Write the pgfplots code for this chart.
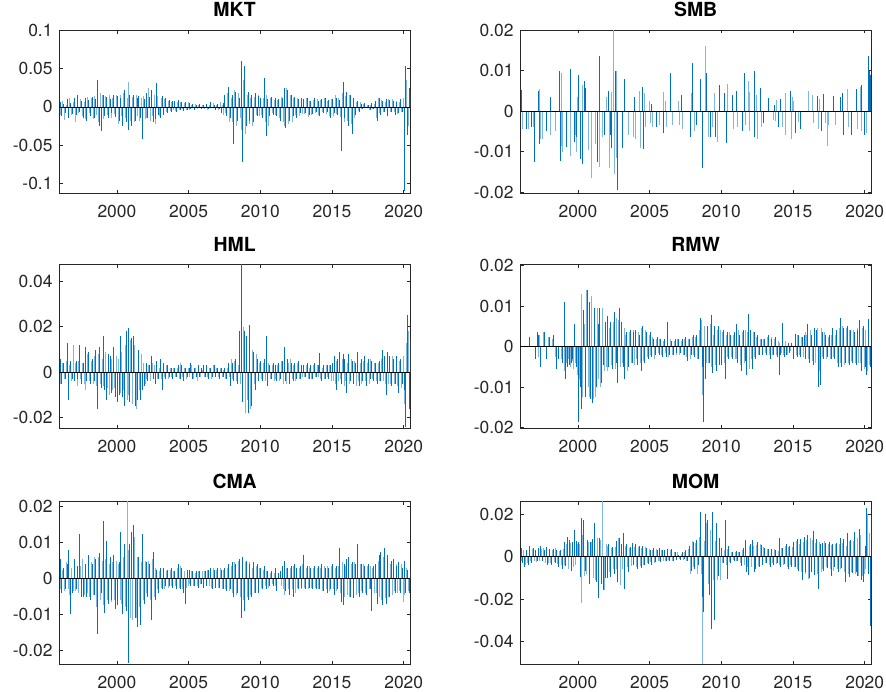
\documentclass[border=0pt]{standalone}
\usepackage{pgfplots}
\pgfplotsset{compat=1.18}
\usepackage{pgfplotstable}
\usepackage{fontspec}
\setmainfont{TeX Gyre Heros}
\definecolor{mblue}{RGB}{0,114,189}
\definecolor{lblue}{RGB}{125,184,224}
\definecolor{axgray}{RGB}{38,38,38}

% ---------- MKT ----------
\pgfplotstableread[row sep=\\]{y\\
0.006\\-0.012\\0.004\\-0.008\\0.010\\-0.015\\0.005\\-0.009\\
0.012\\-0.010\\0.015\\-0.006\\0.008\\-0.014\\0.011\\-0.018\\
0.009\\-0.012\\0.013\\-0.015\\0.010\\0.035\\-0.025\\-0.032\\
0.016\\-0.012\\0.013\\-0.015\\0.010\\-0.008\\0.015\\-0.013\\
0.014\\-0.018\\0.012\\-0.025\\0.022\\-0.020\\-0.030\\0.015\\
-0.025\\0.015\\-0.018\\0.012\\0.014\\-0.015\\-0.042\\0.010\\
0.018\\-0.015\\0.013\\0.022\\-0.020\\-0.016\\0.031\\-0.010\\
-0.015\\0.014\\-0.010\\0.012\\-0.008\\0.009\\-0.006\\0.008\\
0.008\\-0.006\\0.009\\-0.004\\0.006\\-0.005\\0.007\\-0.004\\
0.005\\-0.003\\0.004\\-0.004\\0.003\\-0.002\\0.004\\-0.003\\
0.003\\-0.002\\0.004\\-0.003\\0.006\\-0.002\\0.003\\-0.004\\
0.004\\-0.003\\-0.008\\0.005\\0.015\\-0.012\\0.026\\-0.015\\
0.015\\-0.048\\0.020\\-0.018\\0.012\\0.060\\-0.072\\0.053\\
-0.025\\0.020\\-0.018\\0.015\\-0.020\\0.018\\-0.012\\0.014\\
0.012\\-0.015\\0.038\\-0.038\\0.010\\-0.012\\0.013\\-0.010\\
0.011\\-0.012\\0.010\\-0.018\\0.012\\0.025\\-0.028\\0.022\\
-0.018\\0.015\\-0.012\\0.013\\-0.015\\0.010\\-0.008\\0.012\\
0.010\\-0.008\\0.012\\-0.010\\0.008\\-0.009\\0.011\\-0.007\\
0.008\\-0.012\\0.010\\-0.008\\0.011\\-0.007\\0.009\\-0.014\\
0.010\\-0.008\\0.012\\-0.010\\0.009\\-0.058\\0.033\\-0.015\\
0.020\\-0.025\\0.015\\-0.035\\0.012\\-0.010\\0.008\\-0.006\\
0.004\\-0.003\\0.005\\-0.002\\0.003\\-0.004\\0.005\\-0.003\\
0.008\\-0.018\\0.012\\-0.010\\0.008\\-0.007\\0.010\\-0.012\\
0.009\\-0.006\\0.008\\-0.010\\0.007\\-0.008\\0.010\\-0.006\\
-0.110\\0.053\\-0.036\\0.025\\
}\mktD
\pgfplotstableread[row sep=\\]{y\\
-0.010\\0.008\\-0.017\\0.003\\-0.006\\0.012\\-0.011\\0.007\\
-0.020\\0.014\\-0.008\\0.010\\-0.012\\0.006\\-0.016\\0.013\\
-0.008\\0.011\\-0.016\\0.014\\-0.010\\-0.020\\0.018\\0.015\\
-0.016\\0.014\\-0.010\\0.015\\-0.014\\0.012\\-0.009\\0.016\\
-0.022\\0.016\\-0.012\\0.018\\-0.015\\0.012\\0.033\\-0.018\\
0.013\\-0.020\\0.016\\-0.012\\-0.018\\0.011\\0.014\\-0.016\\
-0.014\\0.025\\-0.018\\-0.012\\0.015\\-0.022\\0.014\\-0.012\\
0.012\\-0.009\\0.010\\-0.007\\0.008\\-0.005\\0.007\\-0.004\\
-0.005\\0.007\\-0.004\\0.006\\-0.003\\0.005\\-0.004\\0.006\\
-0.004\\0.003\\-0.002\\0.004\\-0.003\\0.002\\-0.002\\0.003\\
-0.003\\0.002\\-0.004\\0.003\\-0.002\\0.005\\-0.003\\0.002\\
-0.004\\0.006\\0.003\\-0.010\\-0.008\\0.018\\-0.020\\0.012\\
-0.020\\0.022\\-0.025\\0.018\\-0.015\\-0.030\\0.035\\-0.035\\
0.016\\-0.022\\0.012\\-0.025\\0.013\\-0.010\\0.015\\-0.012\\
-0.010\\0.011\\-0.020\\0.015\\-0.025\\0.012\\-0.008\\0.009\\
-0.010\\0.009\\-0.015\\0.013\\-0.020\\-0.025\\0.024\\-0.022\\
0.016\\-0.020\\0.012\\-0.010\\0.011\\-0.012\\0.010\\-0.009\\
-0.009\\0.011\\-0.013\\0.008\\-0.010\\0.009\\-0.008\\0.010\\
-0.010\\0.009\\-0.006\\0.012\\-0.009\\0.008\\-0.012\\0.010\\
-0.012\\0.015\\-0.009\\0.011\\-0.013\\0.018\\-0.020\\0.014\\
-0.018\\0.016\\-0.022\\0.012\\-0.015\\0.007\\-0.005\\0.006\\
-0.003\\0.004\\-0.002\\0.003\\-0.004\\0.002\\-0.003\\0.004\\
-0.015\\0.011\\-0.008\\0.009\\-0.006\\0.007\\-0.012\\0.010\\
-0.007\\0.010\\-0.006\\0.008\\-0.009\\0.006\\-0.007\\0.011\\
-0.060\\0.035\\-0.025\\0.022\\
}\mktL

% ---------- HML ----------
\pgfplotstableread[row sep=\\]{y\\
0.006\\-0.005\\0.004\\-0.003\\0.013\\-0.012\\0.005\\-0.003\\
-0.004\\0.005\\-0.003\\0.012\\-0.005\\0.004\\0.011\\-0.004\\
0.009\\-0.005\\0.006\\-0.004\\0.010\\-0.016\\0.011\\-0.007\\
0.016\\-0.008\\-0.012\\0.008\\0.007\\-0.009\\0.011\\-0.011\\
-0.013\\-0.010\\0.016\\-0.011\\-0.015\\0.018\\0.0195\\-0.013\\
0.015\\0.016\\-0.015\\-0.012\\0.010\\-0.012\\-0.008\\-0.006\\
0.004\\-0.004\\0.003\\0.007\\-0.003\\-0.005\\0.005\\-0.003\\
0.006\\-0.008\\0.004\\-0.003\\0.003\\-0.002\\0.002\\-0.003\\
0.002\\-0.002\\0.003\\-0.003\\0.003\\-0.004\\0.002\\-0.002\\
0.002\\0.004\\-0.003\\0.002\\-0.002\\0.003\\-0.002\\0.002\\
0.003\\-0.002\\0.003\\-0.003\\0.002\\-0.002\\0.003\\-0.002\\
0.002\\-0.003\\0.002\\-0.002\\0.002\\-0.003\\0.004\\-0.006\\
0.004\\-0.004\\0.006\\-0.005\\0.018\\0.0475\\-0.013\\0.018\\
0.016\\-0.018\\0.021\\-0.015\\0.009\\-0.008\\0.006\\-0.004\\
0.005\\-0.004\\0.006\\0.016\\-0.006\\0.003\\-0.003\\0.004\\
0.003\\-0.004\\0.004\\-0.003\\0.005\\0.011\\-0.004\\0.006\\
-0.005\\0.004\\-0.004\\0.004\\-0.003\\0.005\\-0.003\\0.003\\
0.003\\-0.002\\0.004\\-0.003\\0.003\\-0.003\\0.004\\-0.002\\
0.003\\0.0085\\-0.004\\0.003\\-0.003\\0.003\\-0.003\\0.003\\
0.004\\0.007\\-0.008\\0.006\\0.009\\-0.005\\0.008\\0.006\\
-0.009\\0.008\\-0.004\\0.005\\-0.005\\0.004\\0.009\\-0.006\\
0.006\\-0.004\\0.007\\-0.006\\0.006\\-0.003\\0.005\\-0.004\\
0.004\\-0.005\\0.005\\-0.004\\0.010\\0.007\\-0.010\\0.009\\
0.007\\-0.006\\0.006\\-0.005\\0.007\\-0.009\\0.006\\-0.005\\
-0.008\\-0.024\\0.025\\-0.016\\
}\hmlD
\pgfplotstableread[row sep=\\]{y\\
-0.005\\0.004\\-0.003\\0.005\\-0.004\\0.003\\-0.004\\0.012\\
0.004\\-0.006\\0.005\\-0.003\\0.004\\-0.005\\-0.008\\0.008\\
-0.004\\0.005\\-0.005\\0.007\\-0.006\\0.008\\-0.005\\0.006\\
-0.006\\0.009\\-0.007\\-0.010\\0.006\\-0.008\\-0.007\\0.007\\
0.006\\-0.009\\0.009\\-0.008\\0.012\\-0.012\\-0.010\\0.014\\
-0.014\\0.012\\-0.016\\-0.010\\-0.008\\0.008\\0.004\\-0.005\\
-0.003\\0.003\\-0.004\\0.004\\0.003\\-0.002\\-0.003\\0.002\\
-0.003\\0.004\\-0.002\\0.003\\-0.003\\0.002\\-0.002\\0.002\\
-0.002\\0.002\\-0.003\\0.004\\-0.002\\0.002\\-0.003\\0.002\\
-0.002\\0.003\\-0.003\\0.002\\-0.004\\0.002\\-0.002\\0.001\\
-0.002\\0.003\\-0.002\\0.002\\-0.003\\0.003\\-0.002\\0.002\\
-0.002\\0.002\\-0.002\\0.001\\-0.003\\0.002\\-0.002\\0.006\\
-0.003\\0.005\\-0.004\\0.003\\-0.005\\0.029\\0.020\\-0.018\\
-0.012\\0.014\\-0.016\\0.010\\-0.005\\0.008\\-0.004\\0.004\\
-0.003\\0.004\\-0.004\\0.003\\0.004\\-0.003\\0.003\\-0.004\\
-0.003\\0.003\\-0.004\\0.005\\-0.005\\0.003\\-0.005\\0.004\\
0.006\\-0.003\\0.003\\-0.004\\0.004\\-0.003\\0.003\\-0.002\\
-0.002\\0.003\\-0.003\\0.002\\-0.003\\0.003\\-0.002\\0.003\\
-0.002\\-0.003\\0.002\\-0.003\\0.003\\-0.002\\0.003\\-0.004\\
-0.004\\-0.005\\0.005\\-0.004\\-0.003\\0.006\\-0.006\\-0.004\\
0.004\\-0.005\\0.006\\-0.004\\0.005\\-0.006\\-0.004\\0.004\\
-0.005\\0.005\\-0.004\\0.004\\-0.005\\0.006\\-0.003\\0.004\\
-0.004\\0.004\\-0.004\\0.006\\-0.004\\-0.005\\0.006\\-0.005\\
-0.005\\0.007\\-0.005\\0.006\\-0.006\\0.005\\-0.007\\0.007\\
-0.014\\0.013\\0.018\\0.015\\
}\hmlL

% ---------- RMW ----------
\pgfplotstableread[row sep=\\]{y\\
0\\0\\0\\0\\0\\0.0025\\0\\0\\
-0.003\\0.0035\\0.0028\\-0.005\\0\\0.0035\\-0.003\\0\\
0.0025\\0\\0.0028\\0\\-0.0055\\-0.003\\0\\-0.004\\
0.011\\-0.008\\-0.005\\-0.0045\\-0.004\\-0.003\\0.0055\\-0.005\\
-0.0185\\-0.010\\-0.0155\\0.009\\-0.0125\\0.014\\0.011\\-0.013\\
-0.014\\0.0095\\-0.010\\0.0055\\0.0095\\-0.009\\-0.0045\\0.006\\
0.0075\\-0.005\\0.006\\-0.0055\\0.0085\\-0.004\\-0.009\\0.0095\\
0.006\\-0.005\\-0.008\\0.0035\\-0.005\\0.004\\-0.004\\0.0035\\
0.004\\-0.0045\\0.003\\-0.006\\0.005\\-0.004\\0.0035\\-0.003\\
0.0035\\-0.0025\\0.002\\-0.002\\0.0025\\-0.002\\0.002\\-0.0025\\
0.002\\-0.0025\\0.006\\-0.002\\0.0015\\-0.002\\0.002\\-0.0015\\
0.002\\-0.0015\\0.002\\-0.002\\0.0025\\-0.0035\\0.002\\-0.002\\
0.003\\-0.0025\\0.003\\-0.003\\0.007\\-0.005\\-0.0185\\-0.008\\
0.005\\-0.004\\0.0078\\-0.0065\\0.005\\-0.006\\0.005\\-0.0045\\
-0.0045\\0.004\\-0.008\\0.0035\\-0.003\\0.003\\-0.003\\0.0035\\
0.0055\\-0.004\\0.003\\-0.006\\0.004\\-0.0035\\-0.007\\0.008\\
0.004\\-0.0055\\0.0035\\-0.003\\0.003\\-0.002\\0.002\\-0.002\\
0.002\\-0.002\\0.003\\-0.003\\0.002\\-0.002\\0.0025\\-0.0025\\
-0.007\\-0.002\\0.0058\\-0.0025\\-0.002\\0.001\\-0.0015\\0.001\\
-0.003\\0.0032\\-0.0025\\0.003\\-0.0025\\0.0025\\0.003\\-0.003\\
0.0055\\-0.004\\0.003\\-0.0045\\0.0045\\0.004\\-0.010\\-0.0095\\
0.0035\\-0.003\\0.003\\-0.0025\\0.003\\-0.003\\0.0045\\-0.003\\
0.004\\-0.005\\0.007\\-0.005\\0.0045\\-0.004\\0.005\\-0.0045\\
0.004\\-0.004\\0.0035\\-0.0045\\0.004\\0.0065\\-0.006\\0.005\\
-0.005\\-0.007\\0.0068\\-0.005\\
}\rmwD
\pgfplotstableread[row sep=\\]{y\\
0\\0\\0\\0\\0\\0\\0\\0\\
0\\-0.0025\\0.003\\0\\0.0035\\0\\0\\0.0025\\
0\\0.002\\0\\-0.0025\\0\\0\\-0.003\\0\\
-0.006\\-0.004\\-0.003\\-0.005\\-0.0035\\-0.0055\\-0.004\\-0.007\\
-0.008\\0.013\\-0.0125\\0.0055\\0.014\\-0.010\\-0.0125\\0.0125\\
-0.013\\-0.0125\\0.0095\\-0.008\\-0.010\\0.0095\\-0.006\\-0.005\\
-0.006\\0.0045\\-0.0045\\0.006\\-0.0055\\0.007\\0.0065\\-0.005\\
-0.004\\0.0045\\0.003\\-0.006\\0.0035\\-0.004\\0.004\\-0.0045\\
-0.003\\0.0035\\-0.004\\0.0045\\-0.0035\\0.004\\-0.0025\\0.003\\
-0.002\\0.0025\\-0.003\\0.002\\-0.0015\\0.002\\-0.002\\0.0015\\
-0.0015\\0.002\\-0.0025\\0.002\\-0.002\\0.0015\\-0.002\\0.002\\
-0.002\\0.0015\\-0.002\\0.002\\-0.0025\\0.002\\-0.003\\0.0025\\
-0.002\\0.0025\\-0.003\\0.004\\0.0065\\-0.012\\0.005\\-0.004\\
-0.004\\0.0055\\-0.005\\0.003\\-0.0045\\0.004\\-0.003\\0.004\\
0.0035\\-0.004\\0.003\\-0.0025\\0.0035\\-0.0025\\0.003\\-0.003\\
-0.003\\0.004\\-0.0045\\0.0035\\-0.004\\0.004\\0.0035\\-0.0055\\
-0.003\\0.0035\\-0.0025\\0.0025\\-0.002\\0.002\\-0.0015\\0.002\\
-0.0015\\0.0025\\-0.002\\0.0025\\-0.002\\0.002\\-0.002\\0.0015\\
0.001\\-0.0015\\-0.002\\0.0015\\-0.002\\0\\-0.001\\0\\
0\\-0.002\\0.003\\-0.002\\0.0025\\-0.0025\\0.0035\\0.003\\
-0.003\\0.004\\-0.0035\\0.003\\-0.004\\0.0045\\-0.006\\0.0045\\
-0.0025\\0.0035\\-0.003\\0.0025\\-0.003\\0.003\\-0.0025\\0.003\\
-0.004\\0.0045\\-0.004\\0.005\\-0.0045\\0.0045\\-0.004\\0.004\\
-0.0035\\0.004\\-0.004\\0.0045\\-0.004\\-0.004\\0.0045\\-0.0055\\
0.004\\-0.006\\-0.0045\\0.004\\
}\rmwL

% ---------- CMA ----------
\pgfplotstableread[row sep=\\]{y\\
0.0055\\-0.004\\0.003\\-0.003\\0.004\\0.008\\-0.010\\-0.004\\
0.0055\\-0.003\\0.0035\\0.0125\\-0.005\\-0.005\\0.004\\-0.005\\
0.0065\\-0.006\\0.004\\-0.0045\\0.0055\\-0.0155\\0.007\\-0.004\\
0.016\\-0.0095\\0.0105\\-0.007\\0.006\\-0.006\\0.0065\\-0.0085\\
-0.0075\\0.0045\\0.013\\-0.010\\0.0095\\-0.009\\-0.0235\\0.0095\\
0.013\\0.015\\-0.011\\-0.0135\\0.006\\-0.013\\0.0125\\-0.007\\
0.0045\\-0.005\\0.004\\-0.0115\\0.0075\\-0.006\\0.0025\\-0.004\\
0.003\\-0.003\\0.003\\-0.002\\0.0025\\-0.002\\0.003\\-0.0025\\
0.002\\-0.003\\0.004\\-0.003\\0.003\\-0.004\\-0.007\\0.0025\\
0.0025\\-0.002\\0.002\\-0.002\\0.002\\-0.0025\\0.002\\-0.0015\\
-0.0025\\0.002\\-0.002\\0.0025\\0.003\\-0.003\\0.0025\\-0.0025\\
0.003\\-0.0025\\0.0025\\-0.003\\0.003\\-0.0035\\0.004\\-0.003\\
0.0045\\-0.005\\0.004\\-0.004\\0.0055\\-0.011\\0.006\\-0.009\\
0.005\\-0.006\\0.004\\-0.005\\0.0045\\-0.004\\0.004\\-0.004\\
0.003\\-0.003\\0.0035\\-0.003\\0.002\\-0.002\\0.002\\-0.002\\
0.003\\-0.0035\\0.0015\\0.002\\0.0035\\0.005\\-0.0035\\0.003\\
-0.0045\\0.0035\\-0.005\\0.004\\0.003\\-0.003\\0.0035\\-0.0025\\
0.0065\\-0.003\\0.0035\\-0.0025\\0.003\\-0.003\\0.0035\\-0.003\\
0.0035\\-0.003\\0.004\\-0.0035\\0.003\\-0.004\\0.003\\-0.003\\
0.004\\-0.0045\\0.0035\\-0.003\\0.0085\\-0.0065\\-0.0075\\0.004\\
0.0055\\0.006\\-0.005\\0.0045\\-0.0055\\0.004\\0.0095\\-0.005\\
0.004\\-0.004\\0.0035\\-0.0045\\0.004\\-0.003\\-0.009\\0.0035\\
0.004\\-0.007\\0.0065\\0.0075\\-0.0075\\0.0085\\-0.007\\0.0065\\
-0.005\\0.005\\0.0055\\-0.004\\0.0035\\0.0045\\-0.004\\0.003\\
0.005\\-0.004\\0.0025\\-0.004\\
}\cmaD
\pgfplotstableread[row sep=\\]{y\\
-0.003\\0.0025\\-0.0035\\0.0045\\-0.003\\-0.0045\\0.003\\-0.0035\\
-0.0035\\0.003\\-0.004\\0.0035\\0.0055\\-0.0045\\0.003\\-0.004\\
-0.005\\0.0045\\-0.0045\\0.006\\-0.008\\0.006\\-0.006\\0.005\\
-0.0075\\0.0055\\-0.006\\0.004\\-0.0065\\0.0045\\-0.006\\0.005\\
0.004\\-0.006\\-0.007\\0.006\\-0.008\\0.0215\\0.008\\-0.011\\
-0.0115\\0.0115\\-0.011\\0.006\\-0.008\\0.0045\\-0.006\\0.005\\
-0.004\\0.005\\-0.006\\0.0055\\-0.005\\0.003\\-0.003\\0.002\\
-0.0025\\0.0025\\-0.003\\0.002\\-0.0025\\0.0025\\-0.002\\0.002\\
-0.002\\0.003\\-0.0025\\0.0035\\-0.003\\0.002\\-0.0025\\-0.002\\
-0.0015\\0.002\\-0.002\\0.0015\\-0.002\\0.002\\-0.0015\\0.002\\
0.002\\-0.002\\0.0025\\-0.002\\-0.0025\\0.003\\-0.002\\0.0025\\
-0.0025\\0.003\\-0.003\\0.0025\\-0.003\\0.003\\-0.0035\\0.0035\\
-0.004\\0.0045\\-0.0045\\0.005\\-0.005\\-0.007\\-0.006\\0.0045\\
-0.005\\0.0045\\-0.0045\\0.003\\-0.004\\0.0035\\-0.0035\\0.003\\
-0.0025\\0.0025\\-0.002\\0.002\\-0.0025\\0.0015\\-0.0015\\0.0015\\
-0.002\\0\\0\\-0.002\\-0.003\\-0.0045\\0.003\\-0.003\\
0.003\\-0.003\\0.0035\\-0.004\\-0.0025\\0.003\\-0.003\\0.004\\
-0.0025\\0.003\\-0.003\\0.0035\\-0.0025\\0.003\\-0.0025\\0.003\\
-0.003\\0.003\\-0.0035\\0.0035\\-0.003\\0.0035\\-0.0035\\0.0035\\
-0.003\\0.003\\-0.0035\\0.0035\\-0.004\\0.0045\\-0.005\\0.0035\\
-0.0045\\-0.005\\0.004\\-0.005\\0.0045\\-0.0045\\-0.004\\0.004\\
-0.0035\\0.004\\-0.004\\0.0035\\-0.003\\0.0035\\0.003\\-0.004\\
-0.004\\0.005\\-0.005\\-0.006\\0.006\\-0.0055\\0.005\\-0.005\\
0.004\\-0.0045\\-0.0035\\0.004\\-0.004\\-0.0035\\0.004\\-0.0065\\
-0.0045\\0.003\\-0.0035\\0.002\\
}\cmaL

% ---------- MOM ----------
\pgfplotstableread[row sep=\\]{y\\
0.004\\-0.003\\-0.005\\0.003\\-0.004\\0.005\\-0.003\\0.004\\
0.003\\-0.002\\0.004\\0.005\\-0.002\\0.003\\0.0045\\-0.004\\
0.0035\\-0.004\\0.0035\\-0.003\\0.003\\-0.005\\0.003\\-0.006\\
0.007\\-0.0045\\0.0095\\0.008\\-0.0065\\0.007\\0.0125\\0.0075\\
0.007\\-0.0095\\0.018\\0.0175\\-0.0065\\0.008\\-0.013\\0.007\\
0.0085\\0.016\\-0.012\\-0.0195\\0.009\\-0.013\\-0.0155\\-0.010\\
-0.010\\0.006\\-0.0095\\0.0045\\-0.008\\0.0075\\-0.012\\0.009\\
0.006\\0.011\\-0.015\\0.006\\-0.007\\0.0045\\0.0065\\-0.004\\
0.006\\-0.006\\0.005\\-0.0055\\0.005\\-0.004\\0.004\\-0.0035\\
0.003\\-0.004\\0.004\\-0.0025\\0.003\\0.004\\-0.0025\\0.003\\
0.003\\-0.002\\0.0035\\-0.002\\0.0035\\-0.002\\0.002\\-0.0015\\
0.001\\-0.0015\\0.002\\-0.001\\0.003\\-0.002\\0.005\\-0.0065\\
0.007\\-0.006\\0.008\\-0.004\\0.021\\-0.019\\-0.026\\0.020\\
0.0175\\-0.018\\-0.034\\0.021\\-0.030\\0.016\\-0.009\\0.009\\
0.004\\-0.003\\0.0175\\-0.0105\\0.005\\-0.003\\0.002\\-0.002\\
0.0025\\-0.002\\0.002\\-0.0045\\0.004\\0.008\\-0.007\\-0.0085\\
0.006\\0.008\\-0.007\\-0.006\\0.007\\-0.005\\0.0055\\-0.004\\
0.004\\-0.003\\0.0035\\-0.005\\0.0035\\-0.004\\0.003\\-0.003\\
0.009\\-0.005\\0.004\\-0.0035\\0.006\\-0.006\\0.005\\-0.005\\
0.007\\-0.005\\0.0085\\-0.0065\\0.0085\\-0.011\\0.0095\\-0.007\\
0.010\\-0.010\\-0.007\\0.012\\-0.0085\\0.0085\\-0.015\\0.006\\
0.0065\\-0.0065\\0.0065\\-0.0055\\0.007\\-0.009\\0.006\\-0.005\\
0.0065\\-0.007\\0.009\\-0.0055\\0.0085\\-0.012\\0.011\\-0.0095\\
0.008\\-0.0075\\0.0115\\-0.007\\-0.009\\0.013\\-0.011\\-0.012\\
0.005\\0.023\\-0.008\\-0.0325\\
}\momD
\pgfplotstableread[row sep=\\]{y\\
-0.002\\0.003\\-0.004\\-0.003\\0.003\\-0.002\\0.0035\\-0.002\\
-0.0025\\0.0035\\-0.002\\0.0035\\0.004\\-0.003\\0.003\\-0.003\\
-0.003\\0.003\\-0.0025\\0.004\\-0.0035\\0.0025\\-0.004\\0.0035\\
-0.004\\0.006\\-0.006\\0.0065\\0.005\\-0.005\\-0.004\\0.006\\
0.006\\-0.022\\0.010\\-0.009\\-0.008\\0.007\\-0.011\\0.007\\
-0.010\\-0.011\\0.009\\-0.0135\\0.008\\0.026\\-0.0155\\0.006\\
0.005\\-0.007\\0.004\\-0.006\\0.0045\\-0.006\\0.009\\-0.0135\\
-0.006\\-0.008\\0.005\\-0.005\\0.004\\-0.0045\\-0.004\\0.0045\\
-0.005\\0.0045\\-0.0045\\0.004\\-0.004\\0.0045\\-0.003\\0.0035\\
-0.0025\\0.003\\-0.003\\0.0035\\-0.002\\-0.002\\0.003\\-0.002\\
-0.002\\0.0025\\-0.0015\\0.003\\-0.002\\0.002\\-0.0015\\0.002\\
-0.001\\0.0015\\-0.0015\\0.002\\-0.002\\0.0035\\-0.008\\0.0075\\
-0.005\\0.0065\\-0.008\\0.0095\\-0.008\\-0.0505\\0.0075\\0.016\\
-0.013\\0.0125\\-0.015\\-0.011\\0.0075\\-0.011\\0.008\\-0.011\\
-0.003\\0.003\\-0.004\\0.0035\\-0.0025\\0.002\\-0.0015\\0.002\\
-0.002\\0.002\\-0.003\\0.003\\-0.004\\0.004\\-0.005\\0.005\\
-0.005\\0.005\\-0.006\\0.0055\\-0.0045\\0.006\\-0.004\\0.0045\\
-0.003\\0.0035\\-0.004\\0.003\\-0.003\\0.0035\\-0.0035\\0.0025\\
-0.004\\0.004\\-0.004\\0.005\\-0.005\\0.0045\\-0.004\\0.0045\\
-0.005\\0.0075\\-0.006\\0.006\\-0.007\\0.007\\-0.008\\0.008\\
-0.0105\\0.009\\0.008\\-0.0075\\0.0065\\-0.008\\0.007\\-0.007\\
-0.006\\0.0075\\-0.005\\0.006\\-0.006\\0.0055\\-0.0065\\0.006\\
-0.006\\0.006\\-0.006\\0.0065\\-0.007\\0.005\\-0.008\\0.0075\\
-0.007\\0.0075\\-0.008\\0.009\\-0.009\\0.010\\-0.009\\-0.008\\
-0.006\\0.020\\0.011\\0.019\\
}\momL

\pgfplotsset{
  fac/.style={
    scale only axis, width=350.7bp, anchor=south west,
    xmin=1995.98, xmax=2020.44,
    xtick={2000,2005,2010,2015,2020},
    xticklabels={2000,2005,2010,2015,2020},
    scaled y ticks=false, scaled x ticks=false,
    minor tick num=0,
    tick align=inside, major tick length=3.5bp,
    axis line style={draw=axgray, line width=0.7bp},
    every tick/.style={draw=axgray, line width=0.7bp},
    tick label style={font=\fontsize{17.5}{18}\selectfont, text=axgray},
    xticklabel style={inner sep=0pt, anchor=north, yshift=-12bp},
    yticklabel style={inner sep=0pt, anchor=east, xshift=-6.6bp},
    title style={font=\bfseries\fontsize{19.5}{20}\selectfont, at={(0.5,1)}, anchor=base, yshift=7.5bp, inner sep=0pt},
  },
  dk/.style={ycomb, mark=none, draw=mblue, line width=1bp},
  lt/.style={ycomb, mark=none, draw=lblue, line width=1bp},
  zl/.style={black, line width=0.6bp, mark=none},
}

\begin{document}
\begin{tikzpicture}
\useasboundingbox (0,0) rectangle (886bp,-692bp);

% MKT
\begin{axis}[fac, at={(59.3bp,-193bp)}, height=163bp, ymin=-0.112, ymax=0.1,
  ytick={-0.1,-0.05,0,0.05,0.1}, yticklabels={-0.1,-0.05,0,0.05,0.1}, title={MKT}]
\addplot[lt] table[x expr=1996.09+0.125*\coordindex, y=y]{\mktL};
\addplot[dk] table[x expr=1996.03+0.125*\coordindex, y=y]{\mktD};
\addplot[zl] coordinates {(1995.98,0) (2020.44,0)};
\end{axis}

% SMB
\begin{axis}[fac, at={(520.3bp,-193bp)}, height=163bp, ymin=-0.0202, ymax=0.02,
  ytick={-0.02,-0.01,0,0.01,0.02}, yticklabels={-0.02,-0.01,0,0.01,0.02}, title={SMB}]
\addplot[lt] coordinates {(1996.1,-0.0045) (1996.55,-0.0045) (1996.88,-0.004) (1997.35,0.0055) (1997.4,-0.007) (1997.55,-0.007) (1998.12,-0.006) (1998.4,-0.005) (1998.82,-0.0085) (1998.88,0.0095) (1998.9,-0.010) (1999.45,0.003) (1999.5,-0.011) (1999.82,-0.006) (1999.88,-0.010) (1999.95,0.0035) (2000.35,0.0065) (2000.74,-0.0095) (2000.98,-0.0165) (2001.25,-0.008) (2001.52,-0.0138) (2001.7,-0.0065) (2002.0,0.0035) (2002.2,-0.014) (2002.33,0.0048) (2002.47,0.020) (2002.52,-0.0155) (2002.66,-0.0115) (2002.72,0.0098) (2003.5,-0.006) (2003.85,-0.0065) (2004.02,-0.007) (2004.26,0.005) (2004.35,-0.009) (2004.67,0.0045) (2004.7,-0.004) (2005.0,0.0025) (2005.05,-0.003) (2005.2,-0.004) (2005.7,-0.0035) (2005.98,0.0048) (2006.1,0.0025) (2006.15,-0.004) (2006.6,-0.0035) (2006.98,0.0025) (2007.05,-0.0035) (2007.3,-0.0045) (2007.9,0.0045) (2008.1,-0.005) (2008.93,0.016) (2009.1,-0.0065) (2009.5,0.0045) (2009.4,-0.004) (2009.75,-0.0075) (2010.42,0.0068) (2010.82,-0.0045) (2011.15,-0.004) (2011.7,-0.0035) (2011.93,0.0075) (2011.98,-0.005) (2012.0,0.0048) (2012.53,-0.0068) (2012.45,0.004) (2012.8,-0.004) (2013.65,-0.0022) (2013.85,0.0028) (2013.8,-0.0025) (2014.3,-0.004) (2014.46,0.0045) (2014.5,-0.006) (2014.9,-0.007) (2014.98,0.0035) (2015.05,0.0025) (2015.35,-0.0028) (2016.1,0.005) (2016.33,0.004) (2016.4,-0.003) (2016.8,-0.0045) (2016.86,0.003) (2017.25,-0.003) (2017.4,-0.0085) (2017.5,-0.0035) (2017.97,-0.0035) (2018.81,0.0055) (2018.9,-0.004) (2019.5,-0.0045) (2019.7,0.006) (2019.8,-0.0048) (2020.1,-0.0055)};
\addplot[dk] coordinates {(1996.03,0.0053) (1996.4,-0.0045) (1996.75,-0.004) (1996.98,-0.0125) (1997.25,0.005) (1997.33,-0.008) (1997.8,-0.005) (1998.1,0.0035) (1998.72,0.010) (1998.76,-0.0122) (1999.19,-0.0088) (1999.49,0.0105) (1999.75,-0.0075) (1999.92,-0.0065) (2000.07,0.009) (2000.18,-0.0118) (2000.3,-0.013) (2000.44,0.0075) (2000.5,0.0057) (2001.33,-0.0125) (2001.51,0.0137) (2001.86,-0.006) (2002.15,0.005) (2002.25,-0.0058) (2002.35,-0.009) (2002.62,0.0098) (2002.79,-0.0195) (2003.14,-0.009) (2003.23,0.008) (2003.95,0.0035) (2004.49,0.006) (2004.55,-0.0093) (2005.12,0.0018) (2005.5,-0.004) (2005.95,-0.0055) (2006.47,0.0095) (2007.19,0.004) (2007.84,-0.0065) (2008.02,0.0118) (2008.28,-0.0035) (2008.56,0.0078) (2008.72,-0.014) (2009.0,0.0093) (2009.25,-0.0065) (2009.6,-0.0065) (2009.84,0.0065) (2010.19,0.0045) (2010.35,-0.0078) (2010.77,0.004) (2011.05,0.005) (2011.45,-0.005) (2011.6,0.0095) (2012.28,0.010) (2012.33,-0.0065) (2012.74,0.0058) (2012.95,-0.003) (2013.3,0.0032) (2013.74,0.0016) (2014.0,-0.004) (2014.16,0.003) (2014.84,0.005) (2015.16,-0.0055) (2015.5,-0.0045) (2016.74,0.0038) (2017.02,-0.005) (2017.16,0.0043) (2017.79,0.0037) (2018.33,0.0035) (2018.45,0.0045) (2018.5,-0.006) (2019.07,-0.006) (2019.42,0.0055) (2019.75,0.0065) (2020.0,-0.006) (2020.23,0.0135) (2020.3,0.010) (2020.38,0.009)};
\addplot[zl] coordinates {(1995.98,0) (2020.44,0)};
\end{axis}

% HML
\begin{axis}[fac, at={(59.3bp,-428bp)}, height=163.5bp, ymin=-0.0245, ymax=0.0474,
  ytick={-0.02,0,0.02,0.04}, yticklabels={-0.02,0,0.02,0.04}, title={HML}]
\addplot[lt] table[x expr=1996.09+0.125*\coordindex, y=y]{\hmlL};
\addplot[dk] table[x expr=1996.03+0.125*\coordindex, y=y]{\hmlD};
\addplot[zl] coordinates {(1995.98,0) (2020.44,0)};
\end{axis}

% RMW
\begin{axis}[fac, at={(520.3bp,-428bp)}, height=163.5bp, ymin=-0.0201, ymax=0.0203,
  ytick={-0.02,-0.01,0,0.01,0.02}, yticklabels={-0.02,-0.01,0,0.01,0.02}, title={RMW}]
\addplot[lt] table[x expr=1996.09+0.125*\coordindex, y=y]{\rmwL};
\addplot[dk] table[x expr=1996.03+0.125*\coordindex, y=y]{\rmwD};
\addplot[zl] coordinates {(1995.98,0) (2020.44,0)};
\end{axis}

% CMA
\begin{axis}[fac, at={(59.3bp,-664bp)}, height=162.3bp, ymin=-0.0238, ymax=0.0214,
  ytick={-0.02,-0.01,0,0.01,0.02}, yticklabels={-0.02,-0.01,0,0.01,0.02}, title={CMA}]
\addplot[lt] table[x expr=1996.09+0.125*\coordindex, y=y]{\cmaL};
\addplot[dk] table[x expr=1996.03+0.125*\coordindex, y=y]{\cmaD};
\addplot[zl] coordinates {(1995.98,0) (2020.44,0)};
\end{axis}

% MOM
\begin{axis}[fac, at={(520.3bp,-664bp)}, height=162.3bp, ymin=-0.0505, ymax=0.0259,
  ytick={-0.04,-0.02,0,0.02}, yticklabels={-0.04,-0.02,0,0.02}, title={MOM}]
\addplot[lt] table[x expr=1996.09+0.125*\coordindex, y=y]{\momL};
\addplot[dk] table[x expr=1996.03+0.125*\coordindex, y=y]{\momD};
\addplot[zl] coordinates {(1995.98,0) (2020.44,0)};
\end{axis}

\end{tikzpicture}
\end{document}
